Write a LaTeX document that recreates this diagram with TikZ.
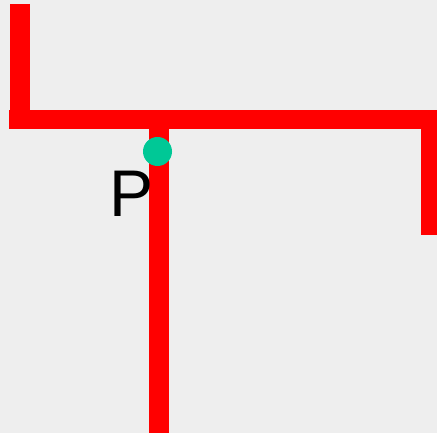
\documentclass[tikz,border=0pt]{standalone}
\usepackage{fontspec}
\setmainfont{Liberation Sans}
\usetikzlibrary{positioning, calc}
\definecolor{bgray}{RGB}{238,238,238}
\definecolor{pgreen}{RGB}{0,200,150}

\begin{document}
\begin{tikzpicture}[
  x=1pt, y=1pt,
  %--- wall and point styles ---
  wall/.style={
    draw=red, line width=20pt, line cap=butt
  },
  ptdot/.style={
    fill=pgreen, draw=none
  },
  ptlbl/.style={
    font=\fontsize{66}{66}\selectfont, inner sep=0pt, text=black
  }
]

%------------------------------------------------------------------
%  Background and frame
%------------------------------------------------------------------
\fill[bgray] (0,0) rectangle (437,433);
\useasboundingbox (0,0) rectangle (437,433);
\clip (0,0) rectangle (437,433);

%------------------------------------------------------------------
%  Corner points
%------------------------------------------------------------------
\coordinate (ltop)  at (20, 429);
\coordinate (lbot)  at (20, 304);
\coordinate (hwest) at (9, 313.5);
\coordinate (heast) at (437, 313.5);
\coordinate (rtop)  at (431, 323);
\coordinate (rbot)  at (431, 198);
\coordinate (ctop)  at (159, 304);
\coordinate (cbot)  at (159, 0);

%------------------------------------------------------------------
%  Walls
%------------------------------------------------------------------
\draw[wall] (ltop) -- (lbot);
\draw[wall, line width=19pt] (hwest) -- (heast);
\draw[wall] (rtop) -- (rbot);
\draw[wall] (ctop) -- (cbot);

%------------------------------------------------------------------
%  Point P
%------------------------------------------------------------------
\fill[ptdot] (157.5, 281.5) circle (14.5);
\node[ptlbl, anchor=base west] (plbl) at (109, 216) {P};

\end{tikzpicture}
\end{document}
